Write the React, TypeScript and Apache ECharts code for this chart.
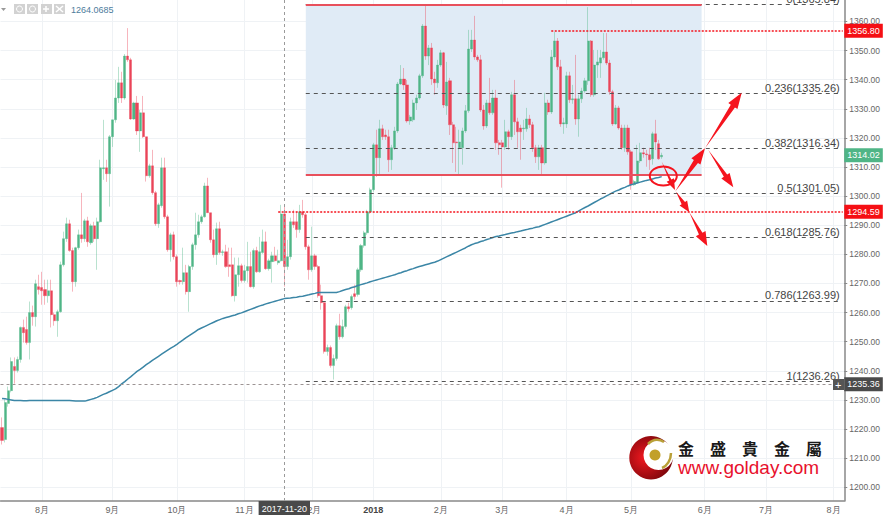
import React, { useEffect, useRef } from "react";
import * as echarts from "echarts";

// [open, close, low, high], one row per daily bar
const candles: number[][] = [
[1220.5,1216.1,1214.7,1224.0],[1216.4,1229.1,1215.4,1230.2],[1228.8,1233.2,1227.7,1234.6],[1233.2,1243.2,1232.6,1244.6],[1241.5,1240.1,1235.6,1244.6],
[1240.1,1243.9,1239.4,1244.9],[1243.9,1254.9,1242.8,1255.2],[1254.9,1253.1,1249.7,1257.6],[1254.2,1249.7,1249.0,1258.6],[1249.7,1260.0,1243.9,1263.8],
[1260.0,1258.6,1255.5,1262.4],[1258.6,1269.9,1255.2,1271.3],[1268.9,1267.9,1266.2,1273.0],[1268.6,1267.5,1262.7,1274.0],[1267.9,1265.8,1262.7,1271.3],
[1265.8,1267.5,1263.4,1271.3],[1267.5,1259.3,1254.9,1271.3],[1259.3,1257.2,1255.5,1260.0],[1257.2,1260.3,1251.7,1261.0],[1260.3,1276.4,1260.0,1277.5],
[1276.4,1285.4,1275.8,1287.8],[1285.4,1290.5,1284.3,1292.6],[1290.5,1281.3,1280.9,1291.9],[1281.3,1270.6,1267.2,1282.3],[1270.6,1282.3,1268.9,1282.6],
[1282.3,1286.7,1281.6,1288.5],[1286.7,1285.4,1284.0,1301.1],[1285.4,1291.5,1284.3,1292.2],[1291.5,1284.3,1282.6,1292.9],[1284.0,1289.8,1283.3,1290.5],
[1289.8,1285.4,1284.3,1291.2],[1285.4,1291.2,1274.7,1292.6],[1291.2,1309.7,1290.9,1312.5],[1309.4,1309.7,1305.6,1326.2],[1309.7,1307.7,1304.9,1312.5],
[1307.7,1320.4,1296.4,1321.0],[1320.4,1326.2,1316.9,1326.2],[1326.2,1333.7,1325.2,1339.9],[1333.7,1338.9,1332.0,1344.4],[1338.9,1333.7,1332.0,1342.7],
[1333.7,1348.1,1333.1,1348.8],[1348.1,1346.8,1346.1,1357.7],[1346.8,1326.5,1326.2,1347.5],[1326.5,1332.0,1326.2,1332.4],[1332.0,1322.4,1321.0,1334.4],
[1322.4,1328.6,1315.2,1329.6],[1328.6,1320.4,1320.0,1334.4],[1320.4,1307.0,1305.0,1320.4],[1307.0,1310.4,1306.3,1311.1],[1310.4,1301.2,1300.5,1315.9],
[1301.2,1290.5,1289.8,1301.8],[1290.5,1297.0,1289.1,1297.7],[1296.7,1309.7,1296.0,1313.2],[1309.7,1292.9,1292.2,1313.2],[1292.9,1281.6,1280.9,1293.6],
[1281.6,1286.7,1277.5,1287.4],[1286.7,1279.2,1278.2,1287.8],[1279.2,1270.6,1268.9,1279.9],[1271.0,1270.6,1269.6,1271.3],[1270.6,1273.7,1269.6,1282.3],
[1273.7,1267.2,1266.2,1276.4],[1267.2,1275.8,1260.3,1276.4],[1275.8,1283.3,1274.7,1284.0],[1283.3,1286.7,1281.6,1294.3],[1286.7,1291.2,1285.7,1293.6],
[1291.2,1292.9,1290.5,1293.6],[1292.9,1303.5,1292.6,1304.6],[1303.5,1294.3,1294.3,1306.3],[1294.3,1285.0,1284.0,1294.3],[1285.0,1279.9,1278.9,1288.5],
[1279.9,1288.8,1276.4,1290.9],[1288.8,1280.6,1279.9,1291.2],[1280.6,1280.9,1279.5,1281.6],[1280.9,1275.8,1275.4,1283.3],[1276.4,1275.8,1272.3,1282.3],
[1276.4,1265.8,1265.5,1282.3],[1265.8,1273.0,1263.8,1278.9],[1273.0,1276.1,1268.9,1278.9],[1276.1,1271.0,1270.3,1276.8],[1271.0,1274.4,1270.3,1276.4],
[1274.4,1275.8,1270.3,1284.3],[1275.8,1268.9,1268.6,1280.9],[1268.9,1281.3,1268.2,1282.0],[1281.3,1274.0,1273.7,1282.6],[1274.0,1280.9,1273.7,1286.0],
[1280.6,1284.3,1280.2,1288.5],[1284.3,1275.1,1274.7,1287.8],[1275.1,1277.8,1274.4,1278.5],[1277.5,1279.5,1270.3,1280.9],[1279.5,1277.8,1277.5,1282.6],
[1277.1,1277.8,1276.4,1281.6],[1277.8,1293.9,1277.5,1297.0],[1293.9,1275.8,1268.9,1296.3],[1275.8,1279.2,1274.7,1285.0],[1279.2,1291.2,1278.2,1292.6],
[1291.2,1290.2,1289.1,1295.3],[1291.2,1288.5,1285.7,1294.6],[1288.5,1294.6,1287.4,1297.0],[1294.6,1293.6,1292.6,1298.7],[1293.6,1282.6,1281.6,1294.3],
[1282.6,1274.7,1271.3,1283.3],[1274.7,1279.5,1274.0,1289.5],[1279.5,1275.8,1274.7,1280.2],[1275.8,1265.8,1265.1,1276.4],[1265.8,1263.4,1261.0,1269.6],
[1263.4,1246.6,1245.9,1263.8],[1246.6,1248.0,1245.2,1249.0],[1248.0,1241.8,1241.1,1248.7],[1241.8,1244.2,1237.0,1245.6],[1244.2,1255.5,1243.5,1256.2],
[1255.5,1251.7,1250.7,1259.6],[1251.7,1255.2,1251.1,1257.6],[1255.2,1262.0,1254.5,1262.7],[1262.0,1261.3,1260.3,1263.4],[1261.7,1265.5,1261.0,1266.2],
[1266.5,1265.5,1264.4,1269.6],[1266.2,1274.7,1265.5,1275.4],[1274.7,1283.0,1274.0,1283.6],[1283.0,1287.4,1282.3,1288.1],[1287.4,1294.6,1286.7,1295.3],
[1294.6,1302.2,1293.9,1302.9],[1302.2,1317.6,1301.5,1318.3],[1317.6,1313.2,1306.6,1322.8],[1313.2,1323.1,1307.3,1326.2],[1323.1,1320.4,1319.3,1324.5],
[1321.0,1320.4,1319.3,1322.8],[1320.4,1312.5,1308.3,1322.8],[1312.5,1316.6,1309.0,1317.6],[1316.6,1322.4,1315.9,1323.8],[1322.4,1338.5,1321.7,1339.2],
[1338.5,1340.2,1338.2,1345.0],[1340.2,1338.2,1336.5,1344.0],[1338.2,1325.8,1325.2,1339.9],[1325.8,1327.2,1324.5,1327.9],[1326.2,1332.0,1325.5,1333.1],
[1332.0,1333.7,1329.6,1334.8],[1333.7,1341.3,1333.1,1342.0],[1341.3,1358.4,1340.6,1359.1],[1358.4,1348.1,1346.8,1365.6],[1348.1,1350.9,1345.0,1351.9],
[1350.9,1340.2,1338.2,1352.6],[1340.2,1338.9,1334.8,1342.7],[1338.9,1345.0,1337.2,1346.8],[1345.0,1349.2,1344.4,1350.2],[1349.2,1331.3,1330.3,1349.5],
[1331.0,1339.2,1327.9,1346.1],[1339.6,1324.5,1321.0,1340.6],[1324.5,1318.3,1311.4,1325.5],[1318.6,1318.3,1308.3,1323.8],[1316.6,1318.6,1307.3,1322.8],
[1316.6,1322.4,1310.8,1323.5],[1322.4,1329.3,1321.7,1331.3],[1329.3,1350.5,1328.6,1357.1],[1350.5,1353.6,1349.5,1357.1],[1353.6,1347.8,1346.8,1361.9],
[1347.8,1346.8,1346.1,1348.5],[1346.8,1329.6,1328.9,1348.5],[1329.6,1324.1,1322.8,1331.3],[1324.1,1332.0,1323.4,1333.1],[1332.0,1328.6,1327.9,1340.6],
[1328.6,1333.7,1327.9,1336.5],[1333.7,1318.3,1315.9,1336.5],[1318.3,1317.6,1314.2,1319.3],[1318.3,1316.9,1302.9,1319.3],[1316.9,1322.1,1315.9,1326.2],
[1322.1,1320.4,1315.9,1322.8],[1320.4,1334.8,1319.3,1335.8],[1334.8,1325.5,1321.0,1339.9],[1325.5,1322.1,1316.6,1326.9],[1323.4,1322.1,1312.5,1324.5],
[1323.1,1323.4,1319.3,1326.2],[1323.1,1326.5,1322.1,1330.3],[1326.5,1324.5,1323.4,1327.9],[1324.5,1316.6,1315.2,1325.5],[1316.6,1313.5,1311.4,1317.6],
[1313.5,1316.6,1309.0,1317.6],[1316.6,1311.4,1307.3,1317.6],[1311.4,1332.0,1310.8,1335.5],[1332.0,1328.9,1327.9,1333.1],[1328.9,1347.8,1328.2,1350.2],
[1347.8,1353.3,1346.8,1356.4],[1353.3,1344.4,1343.3,1354.3],[1344.4,1324.8,1323.8,1346.8],[1324.8,1325.2,1321.4,1326.9],[1324.8,1341.3,1323.4,1342.7],
[1341.3,1333.1,1332.0,1342.7],[1333.1,1333.4,1331.7,1338.2],[1333.4,1326.5,1324.5,1348.5],[1326.5,1333.4,1320.4,1334.8],[1333.4,1336.1,1332.0,1337.2],
[1336.1,1339.6,1335.5,1340.6],[1339.6,1353.3,1338.2,1364.9],[1353.3,1334.8,1334.1,1353.6],[1334.8,1345.0,1334.1,1350.2],[1345.0,1346.1,1340.6,1350.2],
[1345.7,1347.5,1340.6,1350.2],[1347.5,1349.5,1346.8,1356.0],[1349.5,1345.7,1345.0,1356.0],[1345.7,1335.8,1334.8,1346.8],[1335.8,1324.8,1324.1,1336.5],
[1324.8,1330.3,1324.5,1331.3],[1330.3,1323.4,1322.8,1331.0],[1323.4,1316.6,1315.9,1324.5],[1316.6,1323.4,1315.2,1324.5],[1323.4,1315.2,1314.2,1324.5],
[1315.2,1303.9,1302.2,1315.9],[1303.9,1305.0,1303.5,1305.6],[1304.6,1312.1,1304.2,1317.6],[1312.1,1314.9,1311.4,1318.3],[1314.9,1314.5,1313.2,1316.6],
[1314.5,1314.2,1310.1,1315.9],[1314.2,1312.5,1309.0,1316.6],[1312.8,1321.4,1310.8,1322.1],[1321.4,1318.6,1315.9,1326.2],[1318.0,1312.8,1312.5,1319.3],
[1313.5,1314.0,1312.8,1314.9],
];

const movingAverage: number[] = [
1230.5,1230.4,1230.2,1230.0,1229.8,1229.8,1229.8,1229.7,1229.7,1229.8,1229.8,1229.8,1229.8,1229.8,1229.8,1229.8,1229.8,1229.8,1229.8,1229.8,1229.8,1229.8,1229.8,
1229.7,1229.6,1229.6,1229.6,1229.6,1229.9,1230.2,1230.5,1230.9,1231.4,1231.9,1232.3,1232.8,1233.3,1233.8,1234.6,1235.5,1236.3,1237.2,1238.0,1238.9,1239.8,
1240.5,1241.3,1242.1,1242.8,1243.6,1244.3,1245.0,1245.7,1246.4,1247.1,1247.8,1248.4,1249.1,1249.9,1250.6,1251.4,1252.1,1252.8,1253.5,1254.2,
1254.7,1255.2,1255.7,1256.2,1256.7,1257.2,1257.6,1258.0,1258.3,1258.6,1258.9,1259.2,1259.6,1259.9,1260.3,1260.7,1261.1,1261.5,1261.9,1262.3,1262.6,1263.0,1263.3,
1263.6,1263.9,1264.2,1264.5,1264.8,1264.9,1265.0,1265.2,1265.3,1265.5,1265.6,1265.9,1266.1,1266.4,1266.6,1266.9,1266.9,1266.9,1266.9,1266.9,1266.9,1266.9,
1267.2,1267.6,1267.9,1268.2,1268.6,1268.9,1269.3,1269.6,1269.9,1270.2,1270.6,1270.9,1271.2,1271.5,1271.8,1272.1,1272.4,1272.7,1273.0,1273.4,
1273.7,1274.1,1274.4,1274.8,1275.1,1275.5,1275.8,1276.1,1276.4,1276.7,1277.0,1277.3,1277.7,1278.2,1278.7,1279.2,1279.7,1280.2,1280.7,1281.2,1281.7,1282.2,1282.8,1283.3,
1283.7,1284.0,1284.4,1284.7,1285.1,1285.4,1285.8,1286.1,1286.3,1286.6,1286.8,1287.1,1287.3,1287.5,1287.8,1288.0,1288.3,1288.5,1288.8,1289.0,1289.3,1289.5,
1289.9,1290.3,1290.7,1291.1,1291.5,1291.9,1292.3,1292.7,1293.1,1293.5,1293.9,1294.3,1294.9,1295.5,1296.1,1296.6,1297.2,1297.8,1298.4,
1299.0,1299.5,1300.1,1300.6,1301.2,1301.7,1302.1,1302.6,1303.0,1303.5,1303.9,1304.2,1304.5,1304.8,1305.1,1305.4,1305.6,1305.9,1306.2,1306.4,1306.7,
];

const barSlots = 275;
const categories = Array.from({ length: barSlots }, (_, i) => String(i));
const monthTickBars = [13, 36, 57, 79, 101, 121, 143, 163, 184, 205, 229, 249, 271];
const monthTickLabels = ["8月", "9月", "10月", "11月", "12月", "2018", "2月", "3月", "4月", "5月", "6月", "7月", "8月"];
const priceTicks = [1200, 1210, 1220, 1230, 1240, 1250, 1260, 1270, 1280, 1290, 1300, 1310, 1320, 1330, 1340, 1350, 1360];

const fibPrices = [1365.84, 1335.26, 1316.34, 1301.05, 1285.76, 1263.99, 1236.26];
const fibLabels = ["0(1365.84)", "0.236(1335.26)", "0.382(1316.34)", "0.5(1301.05)", "0.618(1285.76)", "0.786(1263.99)", "1(1236.26)"];
const boxTop = 1365.84;
const boxBottom = 1307.2;
const resistance = 1356.8;
const support = 1294.59;
const lastPrice = 1314.02;
const crosshairPrice = 1235.36;
const crosshairBar = 92;
const crosshairDate = "2017-11-20";
const headerValue = "1264.0685";

const UP = "#4fb586";
const DOWN = "#ea4458";
const RED = "#f5141e";
const SANS = '"Liberation Sans", Arial, sans-serif';

function arrow(x1: number, y1: number, x2: number, y2: number, headLen: number, bodyHalf: number, barbHalf: number) {
  const L = Math.hypot(x2 - x1, y2 - y1);
  const ux = (x2 - x1) / L, uy = (y2 - y1) / L;
  const nx = -uy, ny = ux;
  const bx = x2 - ux * headLen, by = y2 - uy * headLen;
  return {
    type: "polygon",
    z: 20,
    shape: {
      points: [
        [x1, y1],
        [bx + nx * bodyHalf, by + ny * bodyHalf],
        [bx + nx * barbHalf, by + ny * barbHalf],
        [x2, y2],
        [bx - nx * barbHalf, by - ny * barbHalf],
        [bx - nx * bodyHalf, by - ny * bodyHalf],
      ],
    },
    style: { fill: RED },
  };
}

function priceTag(value: number, bg: string) {
  return {
    yAxis: value,
    lineStyle: { color: "transparent", width: 0 },
    label: {
      show: true,
      position: "end",
      distance: 0,
      opacity: 1,
      formatter: value.toFixed(2),
      color: "#fff",
      backgroundColor: bg,
      fontFamily: SANS,
      fontSize: 9,
      padding: [3, 3, 2, 3],
    },
  };
}

export default function App() {
  const ref = useRef<HTMLDivElement>(null);
  useEffect(() => {
    if (!ref.current) return;
    const chart = echarts.init(ref.current, undefined, { renderer: "svg" });
    const isMonth = (i: number) => monthTickBars.includes(i);

    const fibLines = fibPrices.map((p, k) => [
      {
        coord: [99, p],
        lineStyle: { color: "#555", type: [4, 4], width: 1 },
        label: {
          show: true,
          position: "insideEndTop",
          distance: 0,
          formatter: fibLabels[k],
          color: "#444",
          fontFamily: SANS,
          fontSize: 11,
        },
      },
      { coord: [273, p] },
    ]);
    const redSolid = (p: number) => [
      { coord: [99, p], lineStyle: { color: "#e8505c", type: "solid", width: 2 }, label: { show: false } },
      { coord: [228, p] },
    ];
    const redDotted = (from: number, p: number) => [
      { coord: [from, p], lineStyle: { color: RED, type: [2, 1.5], width: 1.5 }, label: { show: false } },
      { coord: [274, p] },
    ];

    chart.setOption({
      animation: false,
      backgroundColor: "#fff",
      grid: { left: 0.5, right: 36.5, top: 0, bottom: 15 },
      xAxis: {
        type: "category",
        data: categories,
        boundaryGap: true,
        axisLine: { lineStyle: { color: "#888", width: 1.5 } },
        axisTick: { interval: (i: number) => isMonth(i), alignWithLabel: true, length: 3, lineStyle: { color: "#888" } },
        splitLine: { show: true, interval: (i: number) => isMonth(i), alignWithLabel: true, lineStyle: { color: "#eff2f5", width: 1 } },
        axisLabel: {
          interval: (i: number) => isMonth(i),
          margin: 4,
          color: "#666",
          fontSize: 9,
          fontFamily: SANS,
          formatter: (_v: string, i: number) => {
            const k = monthTickBars.indexOf(i);
            const t = k >= 0 ? monthTickLabels[k] : "";
            return t === "2018" ? `{b|${t}}` : t;
          },
          rich: { b: { fontWeight: "bold", color: "#444", fontSize: 9, fontFamily: SANS } },
        },
      },
      yAxis: {
        type: "value",
        position: "right",
        min: 1195.3,
        max: 1367.35,
        scale: true,
        axisLine: { show: true, lineStyle: { color: "#888", width: 1.5 } },
        axisTick: { show: true, length: 3, customValues: priceTicks, lineStyle: { color: "#888" } },
        splitLine: { show: true, lineStyle: { color: "#eff2f5", width: 1 } },
        axisLabel: {
          customValues: priceTicks,
          margin: 5,
          color: "#666",
          fontSize: 8.5,
          fontFamily: SANS,
          formatter: (v: number) => v.toFixed(2),
        },
      },
      series: [
        {
          name: "zone",
          type: "line",
          data: [],
          z: 1,
          markArea: {
            silent: true,
            itemStyle: { color: "#e0ebf6", opacity: 1 },
            data: [[{ coord: [99, boxTop] }, { coord: [228, boxBottom] }]],
          },
        },
        {
          name: "price",
          type: "candlestick",
          data: candles,
          barWidth: 2.6,
          z: 3,
          itemStyle: { color: UP, color0: DOWN, borderColor: UP, borderColor0: DOWN, borderWidth: 0.4 },
        },
        {
          name: "MA",
          type: "line",
          data: movingAverage,
          showSymbol: false,
          symbol: "none",
          z: 4,
          lineStyle: { color: "#3b86a6", width: 1.5 },
        },
        {
          name: "levels",
          type: "line",
          data: [],
          z: 5,
          markLine: {
            silent: true,
            symbol: "none",
            animation: false,
            data: [
              ...fibLines,
              redSolid(boxTop),
              redSolid(boxBottom),
              redDotted(179, resistance),
              redDotted(90, support),
              {
                yAxis: crosshairPrice,
                lineStyle: { color: "#9c9494", type: [3, 3], width: 1 },
                label: { show: false },
              },
              {
                xAxis: crosshairBar,
                lineStyle: { color: "#9a9a9a", type: [3, 3], width: 1 },
                label: {
                  show: true,
                  position: "start",
                  distance: 0,
                  formatter: crosshairDate,
                  color: "#fff",
                  backgroundColor: "#4a4a4a",
                  fontFamily: SANS,
                  fontSize: 9,
                  padding: [3, 3, 2, 3],
                },
              },
              priceTag(resistance, "#f50f14"),
              priceTag(support, "#f50f14"),
              priceTag(lastPrice, "#4fb586"),
              priceTag(crosshairPrice, "#4a4a4a"),
            ],
          },
        },
      ],
      graphic: [
        { type: "polygon", z: 30, shape: { points: [[1, 8], [6, 8], [3.5, 11]] }, style: { fill: "#999" } },
        ...[14, 27, 41, 54].map((x) => ({
          type: "rect",
          z: 30,
          shape: { x, y: 4, width: 11, height: 10 },
          style: { fill: "#d2d2d2" },
        })),
        ...[19.5, 32.5].map((cx) => ({
          type: "circle",
          z: 31,
          shape: { cx, cy: 9, r: 3 },
          style: { fill: "none", stroke: "#fff", lineWidth: 1 },
        })),
        { type: "line", z: 31, shape: { x1: 43, y1: 9, x2: 49, y2: 9 }, style: { stroke: "#fff", lineWidth: 1.5 } },
        { type: "line", z: 31, shape: { x1: 46, y1: 6, x2: 46, y2: 12 }, style: { stroke: "#fff", lineWidth: 1.5 } },
        { type: "line", z: 31, shape: { x1: 56, y1: 6, x2: 63, y2: 12 }, style: { stroke: "#fff", lineWidth: 1.5 } },
        { type: "line", z: 31, shape: { x1: 63, y1: 6, x2: 56, y2: 12 }, style: { stroke: "#fff", lineWidth: 1.5 } },
        {
          type: "text",
          z: 30,
          x: 71,
          y: 5,
          style: { text: headerValue, fill: "#4d7c9c", font: `9px ${SANS}` },
        },
        // crosshair "+" button
        { type: "rect", z: 30, shape: { x: 833, y: 379, width: 11, height: 11 }, style: { fill: "#555" } },
        { type: "text", z: 31, x: 835, y: 379, style: { text: "+", fill: "#fff", font: `11px ${SANS}` } },
        // hand-drawn annotations
        {
          type: "ellipse",
          z: 20,
          shape: { cx: 663.3, cy: 176, rx: 13.5, ry: 9.5 },
          style: { fill: "none", stroke: RED, lineWidth: 2 },
        },
        arrow(675, 191.7, 705, 148.3, 16, 2.5, 5.5),
        arrow(705, 148.3, 741.7, 92.7, 16, 2.5, 5.5),
        arrow(708.3, 150, 733.3, 187.3, 14, 2, 5),
        arrow(661.7, 161.7, 675, 190, 11, 1.2, 4),
        arrow(676, 191.7, 689.3, 212.3, 11, 2, 4.5),
        arrow(689.3, 212.3, 707.3, 246, 14, 2, 5.5),
        // watermark logo
        {
          type: "circle",
          z: 25,
          shape: { cx: 651, cy: 457.7, r: 21.7 },
          style: {
            fill: new echarts.graphic.RadialGradient(0.35, 0.5, 0.7, [
              { offset: 0, color: "#f01820" },
              { offset: 1, color: "#6e0408" },
            ]),
          },
        },
        { type: "circle", z: 26, shape: { cx: 658.5, cy: 455, r: 15 }, style: { fill: "#fff" } },
        { type: "circle", z: 27, shape: { cx: 655, cy: 455, r: 5.5 }, style: { fill: "#c2a02a" } },
        {
          type: "bezierCurve",
          z: 27,
          shape: { x1: 648, y1: 444, x2: 664, y2: 442, cpx1: 653, cpy1: 439, cpx2: 659, cpy2: 439 },
          style: { fill: "none", stroke: "#b9a038", lineWidth: 2.5 },
        },
        {
          type: "bezierCurve",
          z: 27,
          shape: { x1: 662, y1: 468, x2: 671, y2: 453, cpx1: 667, cpy1: 466, cpx2: 671, cpy2: 460 },
          style: { fill: "none", stroke: "#b9a038", lineWidth: 2.5 },
        },
        {
          type: "text",
          z: 27,
          x: 678,
          y: 440,
          style: { text: "金　盛　貴　金　屬", fill: "#1a1a1a", font: 'bold 16px "Noto Sans CJK TC"' },
        },
        {
          type: "text",
          z: 27,
          x: 678,
          y: 458,
          style: { text: "www.golday.com", fill: "#e8112d", font: `19px ${SANS}` },
        },
      ],
    });
    return () => chart.dispose();
  }, []);
  return (
    <div
      ref={ref}
      style={{ position: "fixed", left: 0, top: 0, width: 883, height: 516, background: "#fff" }}
    />
  );
}
